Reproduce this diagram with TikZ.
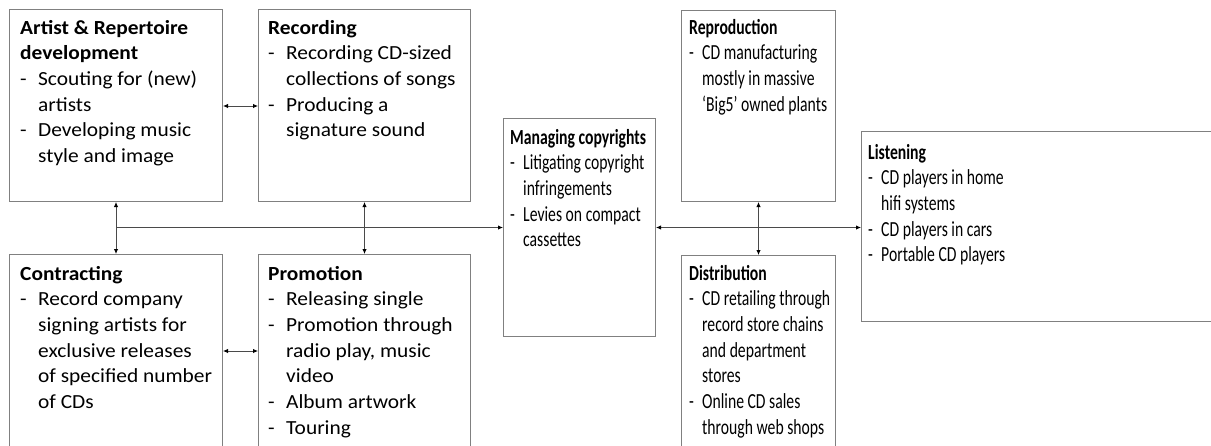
\documentclass[tikz,border=0pt]{standalone}
\usepackage{fontspec}
\setmainfont{Carlito}[FakeStretch=1.07]
\newfontfamily\narrowfont{Carlito}[FakeStretch=0.73]
\usetikzlibrary{arrows.meta}
\definecolor{boxgray}{HTML}{808080}
\definecolor{linegray}{HTML}{4A4A4A}
\newlength{\hangw}
\newcommand{\btitle}[1]{\textbf{#1}\par}
\newcommand{\bitem}[1]{\hangindent=\hangw\hangafter=1\makebox[\hangw][l]{-}#1\par}
\newcommand{\boxtext}[1]{\parbox[t]{320pt}{\fontsize{20pt}{25.7pt}\selectfont\setlength{\parindent}{0pt}\setlength{\hangw}{18pt}\raggedright #1}}
\newcommand{\nboxtext}[1]{\parbox[t]{320pt}{\narrowfont\fontsize{21.5pt}{25.7pt}\selectfont\setlength{\parindent}{0pt}\setlength{\hangw}{13pt}\raggedright #1}}
\tikzset{
  stage/.style={draw=boxgray, line width=1pt, anchor=north west, inner sep=0pt},
  btxt/.style={anchor=base west, inner sep=0pt, text=black},
  conn/.style={draw=linegray, line width=0.9pt, {Latex[length=5pt,width=4.5pt,black]}-{Latex[length=5pt,width=4.5pt,black]}},
  conn1/.style={draw=linegray, line width=0.9pt, -{Latex[length=5pt,width=4.5pt,black]}},
}
\begin{document}
\begin{tikzpicture}[x=1pt,y=-1pt]
\useasboundingbox (0,0) rectangle (1211,445);
\clip (0,0) rectangle (1211,445);
% boxes
\node[stage, minimum width=213pt, minimum height=192pt] (art) at (9,9) {};
\node[stage, minimum width=212pt, minimum height=192pt] (rec) at (258,9) {};
\node[stage, minimum width=213pt, minimum height=200pt] (con) at (9,254) {};
\node[stage, minimum width=212pt, minimum height=200pt] (pro) at (258,254) {};
\node[stage, minimum width=152pt, minimum height=218pt] (man) at (503,118) {};
\node[stage, minimum width=154pt, minimum height=191pt] (rep) at (681,10) {};
\node[stage, minimum width=154pt, minimum height=200pt] (dis) at (681,255) {};
\node[stage, minimum width=370pt, minimum height=190pt] (lis) at (861,131) {};
% texts
\node[btxt] (artT) at (20,34) {\boxtext{\btitle{Artist \& Repertoire\newline development}\bitem{Scouting for (new)\newline artists}\bitem{Developing music\newline style and image}}};
\node[btxt] (recT) at (268,34) {\boxtext{\btitle{Recording}\bitem{Recording CD-sized\newline collections of songs}\bitem{Producing a\newline signature sound}}};
\node[btxt] (conT) at (20,280) {\boxtext{\btitle{Contracting}\bitem{Record company\newline signing artists for\newline exclusive releases\newline of specified number\newline of CDs}}};
\node[btxt] (proT) at (268,280) {\boxtext{\btitle{Promotion}\bitem{Releasing single}\bitem{Promotion through\newline radio play, music\newline video}\bitem{Album artwork}\bitem{Touring}}};
\node[btxt] (manT) at (510,144) {\nboxtext{\btitle{Managing copyrights}\bitem{Litigating copyright\newline infringements}\bitem{Levies on compact\newline cassettes}}};
\node[btxt] (repT) at (689,34) {\nboxtext{\btitle{Reproduction}\bitem{CD manufacturing\newline mostly in massive\newline ‘Big5’ owned plants}}};
\node[btxt] (disT) at (689,280) {\nboxtext{\btitle{Distribution}\bitem{CD retailing through\newline record store chains\newline and department\newline stores}\bitem{Online CD sales\newline through web shops}}};
\node[btxt] (lisT) at (868,159) {\nboxtext{\btitle{Listening}\bitem{CD players in home\newline hifi systems}\bitem{CD players in cars}\bitem{Portable CD players}}};
% connectors
\draw[conn] ([yshift=-97pt]art.north east) -- ([yshift=-97pt]rec.north west);
\draw[conn] ([yshift=-97pt]con.north east) -- ([yshift=-97pt]pro.north west);
\draw[conn] (art.south) -- (con.north);
\draw[conn] (rec.south) -- (pro.north);
\draw[conn1] (art.south |- man.west) -- (man.west);
\draw[conn] (rep.south) -- (dis.north);
\draw[conn] (man.east) -- (lis.west |- man.east);
\end{tikzpicture}
\end{document}
